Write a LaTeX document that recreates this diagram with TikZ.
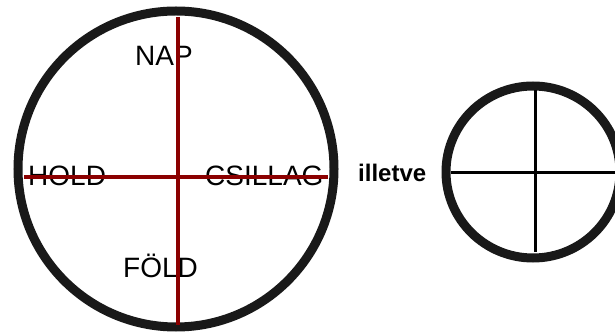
\documentclass[tikz,border=0pt]{standalone}
\usepackage{fontspec}
\setmainfont{Liberation Sans}
\usepackage{tikz}
\usetikzlibrary{positioning}
\definecolor{axisred}{HTML}{8B0000}

\begin{document}
\begin{tikzpicture}[x=1pt, y=-1pt,
    ring/.style={draw=black!90, line width=9pt},
    axis/.style={draw=axisred, line width=3.8pt},
    cross/.style={draw=black, line width=3pt},
    lbl/.style={anchor=base west, inner sep=0pt, font=\fontsize{28}{30}\selectfont}]
    \useasboundingbox (0,0) rectangle (615,336);
    \clip (0,0) rectangle (615,336);
    % nagy kor
    \draw[ring] (176,169) ellipse [x radius=158, y radius=158];
    \node[lbl] (nap)  at (135,66)  {NAP};
    \node[lbl] (hold) at (28,186)  {HOLD};
    \node[lbl] (csil) at (205,186) {CSILLAG};
    \node[lbl] (fold) at (123,278) {FÖLD};
    \draw[axis] (178,17) -- (178,325);
    \draw[axis] (24,177) -- (328,177);
    \node[anchor=base west, inner sep=0pt, font=\fontsize{24}{26}\selectfont\bfseries] (ill) at (358,182) {illetve};
    % kis kor
    \draw[ring] (533,172) ellipse [x radius=87, y radius=86];
    \draw[cross] (535,90) -- (535,252);
    \draw[cross] (451,173) -- (615,173);
  \end{tikzpicture}
\end{document}
